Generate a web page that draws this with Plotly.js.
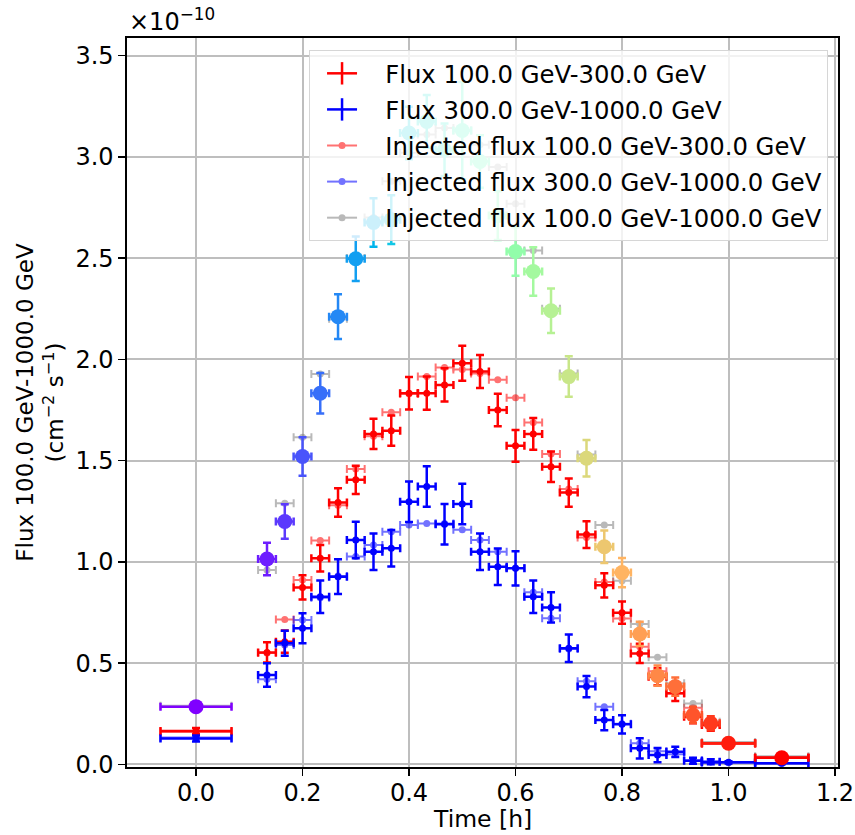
<!DOCTYPE html>
<html>
<head>
<meta charset="utf-8">
<script src="https://cdn.plot.ly/plotly-3.0.1.min.js"></script>
<style>
  html, body { margin: 0; padding: 0; background: #ffffff; }
  #chart { width: 855px; height: 835px; }
</style>
</head>
<body>
<div id="chart"></div>
<script>
// Light-curve bins: centre time [h] and half bin width [h]
const times = [0.0, 0.1333, 0.1667, 0.2, 0.2333, 0.2667, 0.3, 0.3333, 0.3667, 0.4,
               0.4333, 0.4667, 0.5, 0.5333, 0.5667, 0.6, 0.6333, 0.6667, 0.7, 0.7333,
               0.7667, 0.8, 0.8333, 0.8667, 0.9, 0.9333, 0.9667, 1.0, 1.1];
const halfBin = [0.0667, 0.0167, 0.0167, 0.0167, 0.0167, 0.0167, 0.0167, 0.0167, 0.0167, 0.0167,
                 0.0167, 0.0167, 0.0167, 0.0167, 0.0167, 0.0167, 0.0167, 0.0167, 0.0167, 0.0167,
                 0.0167, 0.0167, 0.0167, 0.0167, 0.0167, 0.0167, 0.0167, 0.05, 0.05];

// Reconstructed fluxes, units of 1e-10 cm^-2 s^-1
const flux100to300 = [0.165, 0.553, 0.606, 0.874, 1.018, 1.293, 1.405, 1.632, 1.648, 1.833,
                      1.833, 1.874, 1.981, 1.940, 1.750, 1.573, 1.632, 1.470, 1.342, 1.135,
                      0.884, 0.749, 0.548, 0.433, 0.351, 0.235, 0.194, 0.104, 0.033];
const err100to300 = [0.015, 0.050, 0.055, 0.060, 0.065, 0.070, 0.070, 0.075, 0.075, 0.080,
                     0.082, 0.082, 0.086, 0.082, 0.080, 0.078, 0.078, 0.075, 0.070, 0.066,
                     0.060, 0.055, 0.048, 0.042, 0.038, 0.032, 0.028, 0.015, 0.010];

const flux300to1000 = [0.128, 0.441, 0.598, 0.672, 0.828, 0.927, 1.108, 1.050, 1.067, 1.297,
                       1.372, 1.186, 1.286, 1.050, 0.976, 0.968, 0.828, 0.775, 0.573, 0.384,
                       0.219, 0.198, 0.079, 0.046, 0.062, 0.018, 0.013, 0.010, 0.005];
const err300to1000 = [0.015, 0.058, 0.062, 0.074, 0.080, 0.086, 0.090, 0.090, 0.090, 0.100,
                      0.100, 0.100, 0.100, 0.090, 0.090, 0.085, 0.080, 0.075, 0.068, 0.053,
                      0.050, 0.045, 0.050, 0.035, 0.025, 0.015, 0.012, 0.006, 0.004];

const flux100to1000 = [0.285, 1.014, 1.199, 1.520, 1.833, 2.211, 2.497, 2.676, 2.690, 3.118,
                       3.175, 3.035, 3.130, 2.977, 2.710, 2.533, 2.434, 2.240, 1.915, 1.512,
                       1.075, 0.947, 0.644, 0.438, 0.384, 0.244, 0.203, 0.104, 0.033];
const err100to1000 = [0.015, 0.080, 0.085, 0.095, 0.100, 0.110, 0.110, 0.120, 0.120, 0.130,
                      0.130, 0.130, 0.240, 0.130, 0.120, 0.120, 0.120, 0.110, 0.100, 0.090,
                      0.080, 0.072, 0.060, 0.050, 0.045, 0.040, 0.035, 0.020, 0.015];

// Injected (true) fluxes
const injected100to300 = [0.160, 0.550, 0.716, 0.910, 1.105, 1.280, 1.459, 1.620, 1.739, 1.830,
                          1.915, 1.960, 1.950, 1.930, 1.899, 1.811, 1.688, 1.533, 1.360, 1.120,
                          0.900, 0.720, 0.581, 0.460, 0.350, 0.280, 0.200, 0.100, 0.035];
const injected300to1000 = [0.133, 0.420, 0.590, 0.713, 0.823, 0.930, 1.026, 1.083, 1.149, 1.182,
                           1.190, 1.190, 1.158, 1.108, 1.050, 0.970, 0.850, 0.721, 0.570, 0.410,
                           0.285, 0.200, 0.104, 0.065, 0.050, 0.020, 0.012, 0.008, 0.004];
const injected100to1000 = [0.290, 0.960, 1.290, 1.615, 1.928, 2.200, 2.500, 2.700, 2.880, 3.020,
                           3.110, 3.142, 3.130, 3.060, 2.950, 2.768, 2.538, 2.250, 1.930, 1.530,
                           1.182, 0.907, 0.693, 0.529, 0.400, 0.301, 0.210, 0.110, 0.040];

const legendNames = [
  'Flux 100.0 GeV-300.0 GeV',
  'Flux 300.0 GeV-1000.0 GeV',
  'Injected flux 100.0 GeV-300.0 GeV',
  'Injected flux 300.0 GeV-1000.0 GeV',
  'Injected flux 100.0 GeV-1000.0 GeV'
];

// matplotlib "rainbow" colormap
function rainbow(f) {
  const r = Math.min(1, Math.abs(2 * f - 0.5));
  const g = Math.sin(Math.PI * f);
  const b = Math.cos(Math.PI * f / 2);
  const c = v => Math.round(255 * Math.max(0, Math.min(1, v)));
  return 'rgb(' + c(r) + ',' + c(g) + ',' + c(b) + ')';
}

const FONT = 'DejaVu Sans, Liberation Sans, sans-serif';
const traces = [];

// Injected curves sit underneath the measured points
function injectedTrace(y, color) {
  return {
    type: 'scatter', mode: 'markers', x: times, y: y, showlegend: false, hoverinfo: 'skip',
    opacity: 0.55,
    marker: { color: color, size: 7 },
    error_x: { type: 'data', array: halfBin, visible: true, color: color, thickness: 2, width: 4 }
  };
}
traces.push(injectedTrace(injected100to300, '#ff0000'));
traces.push(injectedTrace(injected300to1000, '#0000ff'));
traces.push(injectedTrace(injected100to1000, '#808080'));

function fluxTrace(y, err, color) {
  return {
    type: 'scatter', mode: 'markers', x: times, y: y, showlegend: false, hoverinfo: 'skip',
    marker: { color: color, size: 7 },
    error_y: { type: 'data', array: err, visible: true, color: color, thickness: 2.5, width: 4 },
    error_x: { type: 'data', array: halfBin, visible: true, color: color, thickness: 2.5, width: 4 }
  };
}
traces.push(fluxTrace(flux100to300, err100to300, '#ff0000'));
traces.push(fluxTrace(flux300to1000, err300to1000, '#0000ff'));

// Total-band points, coloured along the light curve
const n = times.length;
for (let i = 0; i < n; i++) {
  const col = rainbow(i / (n - 1));
  traces.push({
    type: 'scatter', mode: 'markers', x: [times[i]], y: [flux100to1000[i]],
    showlegend: false, hoverinfo: 'skip',
    marker: { color: col, size: 15 },
    error_y: { type: 'data', array: [err100to1000[i]], visible: true, color: col, thickness: 2.5, width: 4 },
    error_x: { type: 'data', array: [halfBin[i]], visible: true, color: col, thickness: 2.5, width: 4 }
  });
}

// Legend entries
const legendColors = ['#ff0000', '#0000ff', '#ff0000', '#0000ff', '#808080'];
const pad = '\u00a0\u00a0\u00a0';
legendNames.forEach((name, k) => {
  const isFlux = k < 2;
  traces.push({
    type: 'scatter', mode: 'lines+markers', x: [null], y: [null], name: pad + name,
    legendgroup: 'g' + k,
    opacity: isFlux ? 1 : 0.55,
    line: { color: legendColors[k], width: isFlux ? 2.5 : 2 },
    marker: isFlux
      ? { symbol: 'line-ns-open', size: 24, color: legendColors[k], line: { color: legendColors[k], width: 2.5 } }
      : { symbol: 'circle', size: 7, color: legendColors[k] }
  });
});

const layout = {
  width: 855, height: 835, autosize: false,
  margin: { l: 127, r: 17, t: 38, b: 68, pad: 0 },
  paper_bgcolor: '#ffffff', plot_bgcolor: '#ffffff',
  font: { family: FONT, size: 24, color: '#000000' },
  showlegend: true,
  legend: {
    x: 0.986, y: 0.9835, xanchor: 'right', yanchor: 'top',
    bgcolor: 'rgba(255,255,255,0.8)', bordercolor: '#d6d6d6', borderwidth: 1,
    font: { family: FONT, size: 24.3, color: '#000000' },
    itemwidth: 30, indentation: 12, traceorder: 'grouped', tracegroupgap: 1.5
  },
  xaxis: {
    range: [-0.1296, 1.2056], tickmode: 'linear', tick0: 0, dtick: 0.2, tickformat: '.1f',
    showgrid: true, gridcolor: '#bebebe', gridwidth: 2, zeroline: false,
    showline: true, linecolor: '#000000', linewidth: 1.6, mirror: true,
    ticks: 'outside', ticklen: 7, tickwidth: 1.6, tickcolor: '#000000',
    ticklabelstandoff: -3,
    tickfont: { family: FONT, size: 24 }
  },
  yaxis: {
    range: [-0.013, 3.587], tickmode: 'linear', tick0: 0, dtick: 0.5, tickformat: '.1f',
    showgrid: true, gridcolor: '#bebebe', gridwidth: 2, zeroline: false,
    showline: true, linecolor: '#000000', linewidth: 1.6, mirror: true,
    ticks: 'outside', ticklen: 7, tickwidth: 1.6, tickcolor: '#000000',
    tickfont: { family: FONT, size: 24 },
    title: { text: 'Flux 100.0 GeV-1000.0 GeV<br>(cm<sup>−2</sup> s<sup>−1</sup>)',
             font: { family: FONT, size: 23 }, standoff: 5 }
  },
  annotations: [
    {
      xref: 'paper', yref: 'paper', x: 0, y: 1, xanchor: 'left', yanchor: 'bottom',
      text: '×10<sup>−10</sup>', showarrow: false, yshift: 0,
      font: { family: FONT, size: 24, color: '#000000' }
    },
    {
      xref: 'paper', yref: 'paper', x: 0.5, y: 0, xanchor: 'center', yanchor: 'bottom',
      text: 'Time [h]', showarrow: false, yshift: -67, borderpad: 0,
      font: { family: FONT, size: 23.5, color: '#000000' }
    }
  ]
};

Plotly.newPlot('chart', traces, layout, { staticPlot: true, displayModeBar: false });
</script>
</body>
</html>
